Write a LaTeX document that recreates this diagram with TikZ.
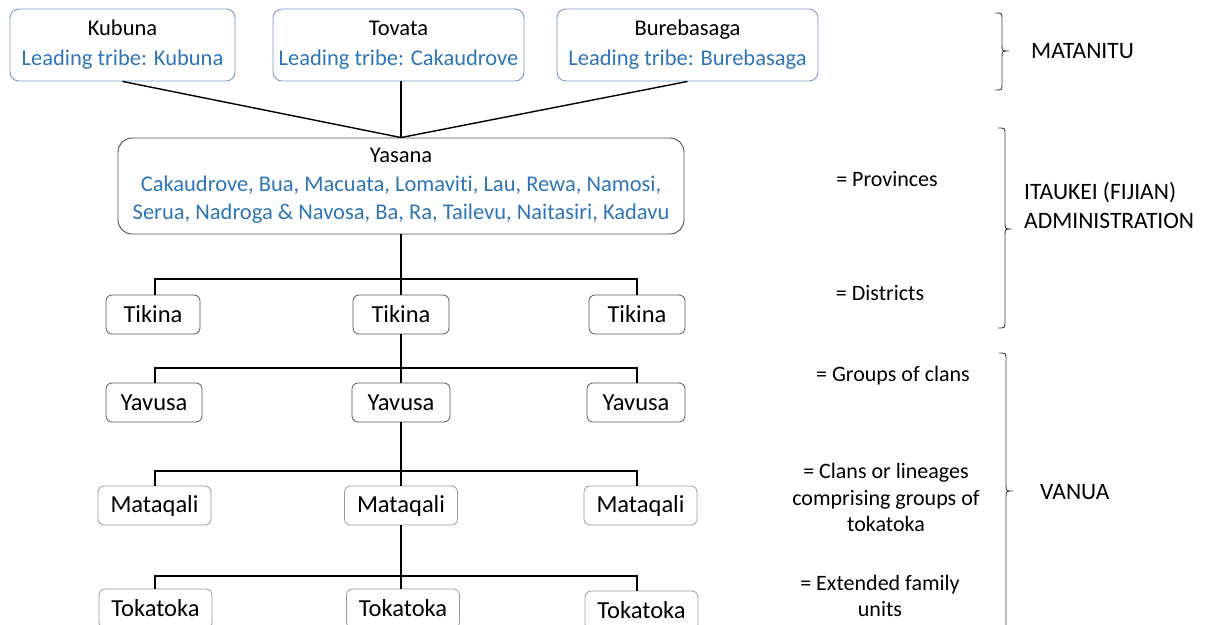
\documentclass[tikz,border=0pt]{standalone}
\usepackage{fontspec}
\setmainfont{Carlito}[Ligatures=NoCommon]
\definecolor{tblue}{RGB}{46,117,182}
\definecolor{topb}{RGB}{125,155,195}
\begin{document}
\begin{tikzpicture}[x=1pt,y=-1pt,
  topbox/.style={draw=topb, line width=0.9pt, rounded corners=9pt, minimum width=#1, minimum height=72pt, align=center, inner sep=0pt, font=\fontsize{22.5}{30}\selectfont},
  bigbox/.style={draw=black!70, line width=0.9pt, rounded corners=14pt, minimum width=566pt, minimum height=96pt, align=center, inner sep=0pt, font=\fontsize{22.5}{28.5}\selectfont},
  lbox/.style={draw=black!65, line width=0.8pt, rounded corners=6pt, minimum width=#1, minimum height=39pt, inner sep=0pt, font=\fontsize{24.5}{30}\selectfont},
  lbox2/.style={draw=black!40, line width=0.8pt, rounded corners=6pt, minimum width=#1, minimum height=39pt, inner sep=0pt, font=\fontsize{24.5}{30}\selectfont},
  conn/.style={line width=1.4pt, black},
  note/.style={align=center, inner sep=0pt, font=\fontsize{22}{26.5}\selectfont},
  lvl/.style={align=left, anchor=west, inner sep=0pt, font=\fontsize{23.5}{29}\selectfont},
  brace/.style={line width=0.9pt, black!75}
]
\useasboundingbox (0,0) rectangle (1217,624);
\clip (0,0) rectangle (1217,624);

% top boxes
\node[topbox=225pt] (kub) at (122.5,45) {Kubuna\\{\color{tblue}Leading tribe: Kubuna}};
\node[topbox=251pt] (tov) at (398.5,45) {Tovata\\{\color{tblue}Leading tribe: Cakaudrove}};
\node[topbox=261pt] (bur) at (687.5,45) {Burebasaga\\{\color{tblue}Leading tribe: Burebasaga}};

\node[bigbox] (yas) at (401,186) {Yasana\\{\color{tblue}Cakaudrove, Bua, Macuata, Lomaviti, Lau, Rewa, Namosi,}\\{\color{tblue}Serua, Nadroga \& Navosa, Ba, Ra, Tailevu, Naitasiri, Kadavu}};

% level nodes
\node[lbox=94pt] (tik1) at (153,314.5) {Tikina};
\node[lbox=96pt] (tik2) at (401,314.5) {Tikina};
\node[lbox=96pt] (tik3) at (637,314.5) {Tikina};

\node[lbox=96pt] (yav1) at (154,402.5) {Yavusa};
\node[lbox=98pt] (yav2) at (401,402.5) {Yavusa};
\node[lbox=98pt] (yav3) at (636,402.5) {Yavusa};

\node[lbox2=113pt] (mat1) at (154.5,505.5) {Mataqali};
\node[lbox2=113pt] (mat2) at (401,505.5) {Mataqali};
\node[lbox2=113pt] (mat3) at (640.5,505.5) {Mataqali};

\node[lbox2=113pt] (tok1) at (155.5,608.5) {Tokatoka};
\node[lbox2=113pt] (tok2) at (403,608.5) {Tokatoka};
\node[lbox2=113pt] (tok3) at (641.5,610.5) {Tokatoka};

% connectors top
\draw[conn] (kub.south) -- (yas.north);
\draw[conn] (tov.south -| yas.north) -- (yas.north);
\draw[conn] (bur.south) -- (yas.north);

% bars
\coordinate (b1l) at (155,279); \coordinate (b1r) at (637,279);
\coordinate (b2l) at (155,368); \coordinate (b2r) at (637,368);
\coordinate (b3l) at (155,471); \coordinate (b3r) at (637,471);
\coordinate (b4l) at (155,576); \coordinate (b4r) at (637,576);

\draw[conn] (yas.south) -- (yas.south |- tik2.north);
\draw[conn] (tik1.north -| b1l) -- (b1l) -- (b1r) -- (tik3.north -| b1r);

\draw[conn] (tik2.south) -- (tik2.south |- yav2.north);
\draw[conn] (yav1.north -| b2l) -- (b2l) -- (b2r) -- (yav3.north -| b2r);

\draw[conn] (yav2.south) -- (yav2.south |- mat2.north);
\draw[conn] (mat1.north -| b3l) -- (b3l) -- (b3r) -- (mat3.north -| b3r);

\draw[conn] (mat2.south) -- (mat2.south |- tok2.north);
\draw[conn] (tok1.north -| b4l) -- (b4l) -- (b4r) -- (tok3.north -| b4r);

% notes
\node[note] (prov) at (887,179) {= Provinces};
\node[note] (dist) at (880,293) {= Districts};
\node[note] (grp) at (893,376) {= Groups of clans};
\node[note] (clan) at (886,497.5) {= Clans or lineages\\comprising groups of\\tokatoka};
\node[note] (ext) at (880,596) {= Extended family\\units};

% braces
\draw[brace] (995,13) .. controls (1002,13) .. (1002,19) -- (1002,45) .. controls (1002,51) .. (1009,51) .. controls (1002,51) .. (1002,57) -- (1002,84) .. controls (1002,90) .. (995,90);
\draw[brace] (998,128) .. controls (1005,128) .. (1005,134) -- (1005,223) .. controls (1005,229) .. (1012,229) .. controls (1005,229) .. (1005,235) -- (1005,322) .. controls (1005,328) .. (998,328);
\draw[brace] (999,353) .. controls (1006,353) .. (1006,359) -- (1006,485) .. controls (1006,491) .. (1013,491) .. controls (1006,491) .. (1006,497) -- (1006,650);

\node[lvl] (mat) at (1031,51) {MATANITU};
\node[lvl] (itk) at (1024,205.5) {ITAUKEI (FIJIAN)\\ADMINISTRATION};
\node[lvl] (van) at (1040,492) {VANUA};
\end{tikzpicture}
\end{document}
